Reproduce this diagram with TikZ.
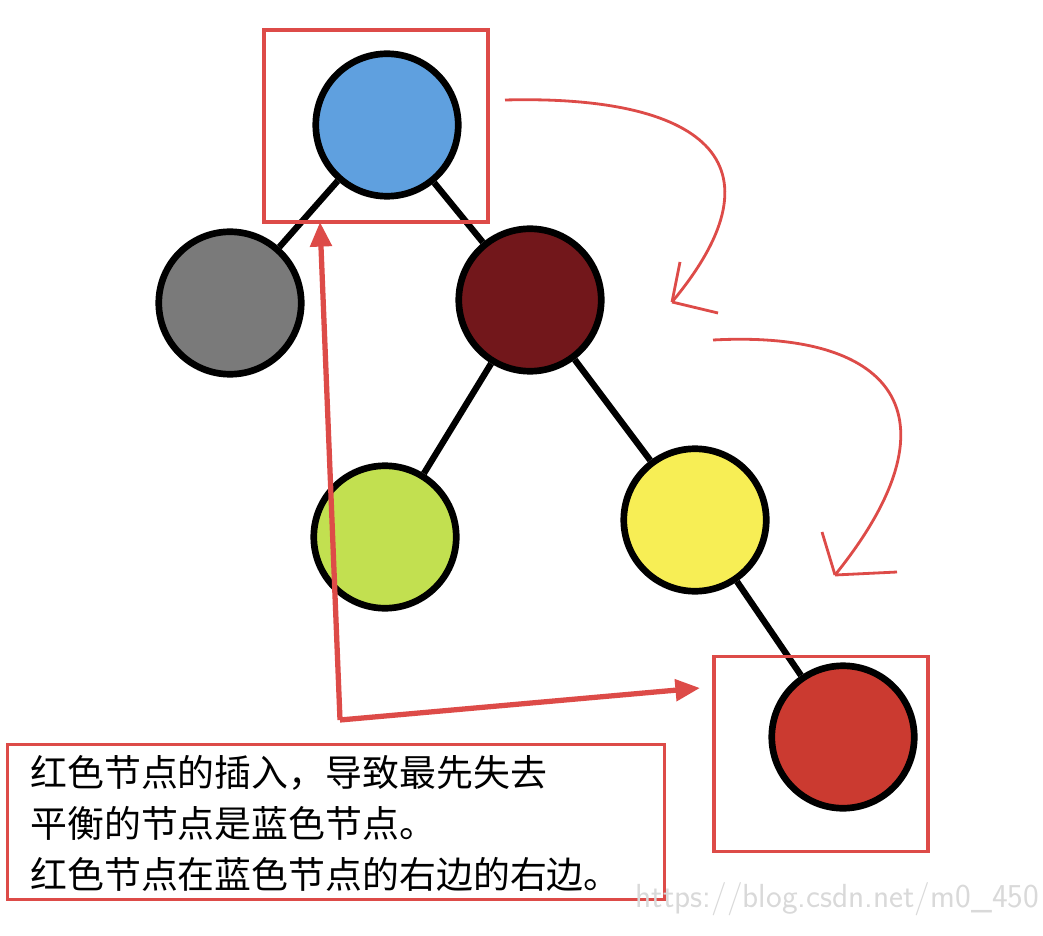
\documentclass[tikz,border=0pt]{standalone}
\usepackage{fontspec}
\newfontfamily\cjk{Noto Sans CJK SC}
\usetikzlibrary{arrows.meta}
\definecolor{nodeblue}{HTML}{5FA0DF}
\definecolor{nodegray}{HTML}{7A7A7A}
\definecolor{nodedark}{HTML}{72171B}
\definecolor{nodegreen}{HTML}{C2E050}
\definecolor{nodeyellow}{HTML}{F7EE55}
\definecolor{nodered}{HTML}{CB3A30}
\definecolor{markred}{HTML}{DD4B48}
\tikzset{
  tnode/.style={circle,draw=black,line width=3.8pt,minimum size=2.85cm,inner sep=0pt},
  edge/.style={line width=3.6pt},
  redbox/.style={draw=markred,line width=2pt},
  hand/.style={draw=markred,line width=1.6pt}
}
\begin{document}
\begin{tikzpicture}[x=0.02cm,y=-0.02cm]
  \useasboundingbox (0,0) rectangle (1043,935);
  \node[tnode,fill=nodeblue] (a) at (387,125) {};
  \node[tnode,fill=nodegray] (b) at (230,303) {};
  \node[tnode,fill=nodedark] (c) at (530,300) {};
  \node[tnode,fill=nodegreen] (d) at (385,537) {};
  \node[tnode,fill=nodeyellow] (e) at (695,520) {};
  \node[tnode,fill=nodered] (f) at (843,737) {};
  \draw[edge] (a) -- (b);
  \draw[edge] (a) -- (c);
  \draw[edge] (c) -- (d);
  \draw[edge] (c) -- (e);
  \draw[edge] (e) -- (f);
  % boxes
  \node[redbox,minimum width=4.48cm,minimum height=3.84cm] (boxa) at (376,126) {};
  \node[redbox,minimum width=4.28cm,minimum height=3.9cm] (boxf) at (821,754) {};
  \node[redbox,minimum width=13.14cm,minimum height=3.1cm] (note) at (336,822) {};
  \node[anchor=north west,align=left,font=\cjk\fontsize{21}{29}\selectfont,inner sep=0pt]
    (txt) at (30,755) {红色节点的插入，导致最先失去\\平衡的节点是蓝色节点。\\红色节点在蓝色节点的右边的右边。};
  \node[anchor=south east,text=black!15,font=\sffamily\fontsize{19}{19}\selectfont,inner sep=2pt]
    (wm) at (1043,920) {https://blog.csdn.net/m0\_450};
  % pointers
  \coordinate (p) at (340,720);
  \coordinate (pa) at (320,222);
  \coordinate (pf) at (700,688);
  \draw[redbox,line width=3pt,-{Triangle[length=14pt,width=12pt]}] (p) -- (pa);
  \draw[redbox,line width=3pt,-{Triangle[length=14pt,width=12pt]}] (p) -- (pf);
  % rotation hints
  \coordinate (r1) at (505,100);
  \coordinate (r2) at (672,302);
  \draw[hand] (r1) .. controls (700,95) and (790,160) .. (r2);
  \draw[hand] (r2) -- (680,262);
  \draw[hand] (r2) -- (718,313);
  \coordinate (s1) at (713,340);
  \coordinate (s2) at (835,575);
  \draw[hand] (s1) .. controls (900,330) and (960,420) .. (s2);
  \draw[hand] (s2) -- (822,532);
  \draw[hand] (s2) -- (897,572);
\end{tikzpicture}
\end{document}
